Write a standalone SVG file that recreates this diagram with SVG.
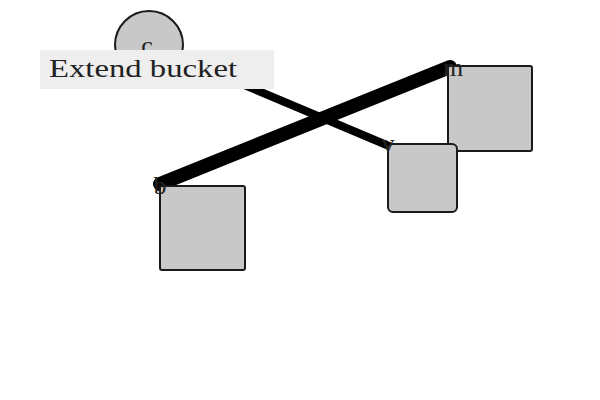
<svg xmlns="http://www.w3.org/2000/svg" width="600" height="400" viewBox="0 0 600 400">
<style>
.node{fill:#c8c8c8;stroke:#1a1a1a;stroke-width:2}
.lbl{font-family:"Liberation Serif","DejaVu Serif",serif;font-size:26px;fill:#222;text-anchor:middle}
.edge{stroke:#000;stroke-linecap:round;fill:none}
</style>
<rect width="600" height="400" fill="#fff"/>
<g id="edges">
<line class="edge" x1="149" y1="45" x2="389" y2="146" stroke-width="8"/>
<line class="edge" x1="160" y1="184" x2="450" y2="67" stroke-width="14"/>
</g>
<g id="node-c">
<circle class="node" cx="149" cy="45" r="34"/>
<text class="lbl" x="147" y="54">c</text>
</g>
<g id="node-m">
<rect class="node" x="448" y="66" width="84" height="85" rx="2"/>
<text class="lbl" x="453" y="76">m</text>
</g>
<g id="node-v">
<rect class="node" x="388" y="144" width="69" height="68" rx="5"/>
<text class="lbl" x="388" y="152">v</text>
</g>
<g id="node-b">
<rect class="node" x="160" y="186" width="85" height="84" rx="2"/>
<text class="lbl" x="160" y="194">b</text>
</g>
<g id="label-box">
<rect x="40" y="50" width="234" height="39" fill="#eeeeee"/>
<text x="49" y="77" font-family="Liberation Serif, DejaVu Serif, serif" font-size="26" fill="#222" textLength="188" lengthAdjust="spacingAndGlyphs">Extend bucket</text>
</g>
</svg>
